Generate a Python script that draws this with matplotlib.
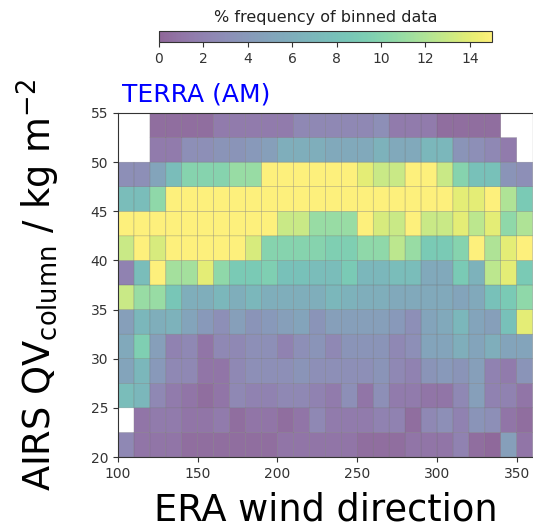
import numpy as np
import matplotlib
matplotlib.use("Agg")
import matplotlib.pyplot as plt

# bin edges
x_edges = np.arange(100, 361, 10)      # ERA wind direction bins
y_edges = np.arange(20, 55.01, 2.5)     # AIRS QV column bins
nan = np.nan

# % frequency per bin; rows from y=20 (bottom) to y=55 (top), cols from x=100 to 360
row_20_0 = [2.5, 1, 1, 1, 0.5, 0.5, 0.5, 0.5, 0.5, 0.5, 1, 1, 1, 1, 1, 0.5, 0.5, 0.5, 1, 1, 1, 2, 0.5, 0.2, 4.5, 1]
row_22_5 = [nan, 1, 1.5, 1.5, 1, 1, 1.5, 0.5, 1, 1, 0.5, 1, 2.5, 1.5, 1.5, 1.5, 2, 2, 0.5, 2.5, 3, 2, 3.5, 3, 1, 0.5]
row_25_0 = [7.5, 7, 2.5, 1.5, 1, 0.5, 1, 2.5, 2, 2, 2.5, 2.5, 2, 1.5, 3, 1, 3, 1.5, 1.5, 1, 1, 2.5, 4.5, 2, 2, 1]
row_27_5 = [5, 7, 4, 2.5, 2.5, 1, 1, 2.5, 3, 3, 3, 3.5, 3, 3, 3, 3, 3.5, 2.5, 2, 3.5, 4, 3.5, 4.5, 2, 1.5, 3.5]
row_30_0 = [5.5, 9.5, 4.5, 2, 2.5, 1, 2.5, 2.5, 3, 3, 2, 3, 3.5, 2.5, 3.5, 3.5, 3.5, 2.5, 3, 5, 5, 6, 5, 6, 5, 5]
row_32_5 = [4.5, 7, 6, 6.5, 5, 4, 3, 4.5, 3.5, 4, 4.5, 5, 3.5, 4.5, 4.5, 4.5, 4.5, 4, 3, 5, 5.5, 7, 5, 4.5, 8, 14]
row_35_0 = [13, 11, 11, 8.5, 6, 6, 7, 6, 7, 6, 6, 6, 6, 7, 6.5, 6, 6, 5.5, 5.5, 5.5, 5.5, 5, 5.5, 8, 9, 10.5]
row_37_5 = [2, 7.5, 15, 11.5, 11.5, 14, 10.5, 9, 9, 9.5, 8, 8, 7.5, 7.5, 9, 7, 7, 7.5, 7.5, 5.5, 5.5, 9, 6.5, 12.5, 14, 9]
row_40_0 = [13, 15, 13.5, 15, 15, 15, 15, 15, 13.5, 10, 10, 10, 10, 9.5, 9.5, 10.5, 10.5, 12.5, 11, 9, 9, 10, 15, 12, 14, 15]
row_42_5 = [15, 15, 15, 15, 15, 15, 15, 15, 15, 15, 13, 13, 11, 11, 11, 15, 13.5, 13, 15, 13, 13, 14, 12.5, 14, 10.5, 12]
row_45_0 = [7.5, 7.5, 10.5, 15, 15, 15, 15, 15, 15, 15, 15, 15, 15, 15, 15, 15, 15, 15, 15, 15, 15, 14, 14, 15, 12, 9]
row_47_5 = [3, 3, 5, 7.5, 10, 10, 10, 11, 11, 15, 15, 15, 15, 15, 15, 14, 13, 13, 15, 15, 13, 10, 8, 8, 3.5, 3]
row_50_0 = [nan, nan, 1.5, 1.5, 3, 3, 3.5, 3.5, 4, 4.5, 6, 6, 6, 5.5, 5.5, 5.5, 6.5, 5.5, 5.5, 7, 7, 3.5, 3, 2.5, 1.5, nan]
row_52_5 = [nan, nan, 0.5, 0.5, 0.5, 0.5, 1.5, 1.5, 1.5, 1.5, 1.5, 2.5, 2.5, 2.5, 2.5, 2.5, 3, 1.5, 1.5, 1.5, 0.5, 0.5, 0.5, 0.5, nan, nan]

freq = np.ma.masked_invalid(np.array([row_20_0, row_22_5, row_25_0, row_27_5, row_30_0, row_32_5, row_35_0,
                                      row_37_5, row_40_0, row_42_5, row_45_0, row_47_5, row_50_0, row_52_5]))

x_ticks = [100, 150, 200, 250, 300, 350]
y_ticks = [20, 25, 30, 35, 40, 45, 50, 55]
cbar_ticks = [0, 2, 4, 6, 8, 10, 12, 14]

fig = plt.figure(figsize=(5.33, 5.30), dpi=100)
ax = fig.add_axes([0.2214, 0.1377, 0.778, 0.6491])
mesh = ax.pcolor(x_edges, y_edges, freq, cmap="viridis", vmin=0, vmax=15,
                 alpha=0.6, edgecolors="grey", linewidth=0.3)
ax.set_xlim(100, 360)
ax.set_ylim(20, 55)
ax.set_xticks(x_ticks)
ax.set_yticks(y_ticks)
ax.tick_params(labelsize=10, colors="#333333")
for s in ax.spines.values():
    s.set_color("#333333")
ax.set_xlabel("ERA wind direction", fontsize=26.5, labelpad=8)
ax.set_ylabel(r"AIRS QV$_{\mathrm{column}}$ / kg m$^{-2}$", fontsize=26.5, labelpad=21)
ax.text(0.01, 1.02, "TERRA (AM)", color="blue", fontsize=18, transform=ax.transAxes,
        ha="left", va="bottom")

cax = fig.add_axes([0.298, 0.921, 0.625, 0.021])
cb = fig.colorbar(mesh, cax=cax, orientation="horizontal", ticks=cbar_ticks)
cb.ax.tick_params(labelsize=10, colors="#333333")
cb.outline.set_edgecolor("#333333")
cb.ax.set_title("% frequency of binned data", fontsize=11.5, pad=6, color="#222222")

fig.savefig("out.png", dpi=100)
